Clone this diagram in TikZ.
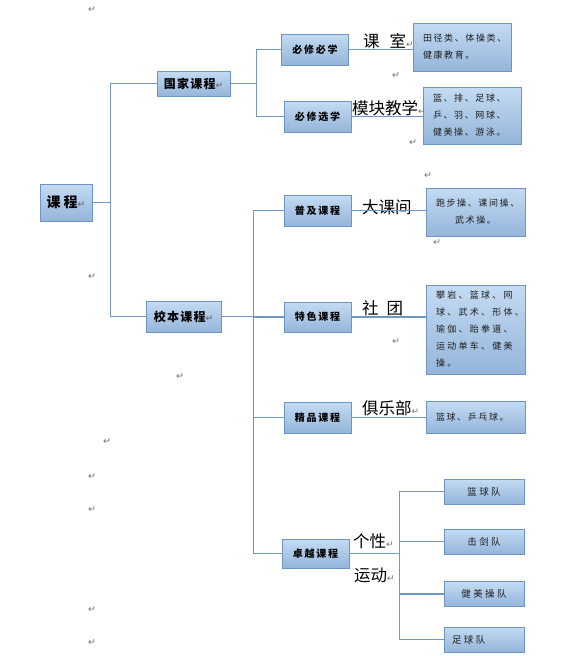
\documentclass[tikz,border=0pt]{standalone}
\usepackage{fontspec}
\usepackage{xcolor}
\usepackage{tikz}
\usetikzlibrary{positioning,calc}
\newfontfamily\cjk{Noto Sans CJK SC}
\newfontfamily\cjkmid[LetterSpace=10]{Noto Sans CJK SC}
\newfontfamily\cjkwide[LetterSpace=18]{Noto Sans CJK SC}
\newfontfamily\cjkwider[LetterSpace=25]{Noto Sans CJK SC}
\newfontfamily\dejavu{DejaVu Sans}
\definecolor{boxtop}{RGB}{196,219,243}
\definecolor{boxbot}{RGB}{148,181,218}
\definecolor{boxline}{RGB}{110,148,192}
\definecolor{wire}{RGB}{112,152,194}
\definecolor{retgray}{RGB}{115,115,115}
\definecolor{smalltext}{RGB}{30,30,30}
\newcommand{\retm}{{\dejavu\color{retgray}\fontsize{9}{9}\selectfont ↵}}

\begin{document}
\begin{tikzpicture}[
  x=1pt, y=-1pt,
  box/.style={
    draw=boxline, line width=0.9pt, top color=boxtop, bottom color=boxbot,
    inner sep=0pt, text centered
  },
  mainbox/.style={box, font=\cjkmid\bfseries\fontsize{12}{14}\selectfont},
  subbox/.style={box, minimum width=67pt, minimum height=31pt,
    font=\cjkwide\bfseries\fontsize{10}{12}\selectfont},
  infobox/.style={box, minimum width=99pt, inner xsep=10pt, text width=79pt,
    align=left, font=\cjkwide\fontsize{9}{17}\selectfont, text=smalltext},
  teambox/.style={box, minimum width=80pt, minimum height=25pt,
    font=\cjkwider\fontsize{9.5}{11}\selectfont, text=smalltext},
  tag/.style={font=\cjk\fontsize{16.5}{18}\selectfont, inner sep=0pt, anchor=west},
  link/.style={draw=wire, line width=1.1pt},
  pmark/.style={font=\dejavu\fontsize{9.5}{9.5}\selectfont, text=retgray, inner sep=0pt}
]
\useasboundingbox (0,0) rectangle (574,656);

% Nodes
\node[mainbox, minimum width=52pt, minimum height=37pt,
  font=\cjk\bfseries\fontsize{14}{16}\selectfont] (root) at (66,202.5)
  {课\hspace{3pt}程\retm};

\node[mainbox, minimum width=73pt, minimum height=25pt] (gj) at (193.5,83.5) {国家课程\retm};
\node[mainbox, minimum width=75pt, minimum height=31pt] (xb) at (183.5,316.5) {校本课程\retm};

\node[subbox] (bb) at (315,49.5) {必修必学};
\node[subbox] (bx) at (317.5,116.5) {必修选学};
\node[subbox] (pj) at (317.5,210.5) {普及课程};
\node[subbox, minimum height=30pt] (ts) at (317.5,317) {特色课程};
\node[subbox] (jp) at (317.5,417.5) {精品课程};
\node[subbox, minimum height=29pt] (zy) at (315.5,553.5) {卓越课程};

\node[infobox, minimum width=98pt, text width=78pt, minimum height=48pt] (r1) at (462,47)
  {田径类、体操类、\\健康教育。};
\node[infobox, minimum width=98pt, text width=78pt, minimum height=57pt] (r2) at (472,115.5)
  {篮、排、足球、\\乒、羽、网球、\\健美操、游泳。};
\node[infobox, align=center, minimum height=48pt] (r3) at (475.5,212)
  {跑步操、课间操、\\武术操。};
\node[infobox, minimum height=89pt, font=\cjkwider\fontsize{9}{17}\selectfont] (r4) at (475.5,329.5)
  {攀岩、篮球、网\\球、武术、形体、\\瑜伽、跆拳道、\\运动单车、健美\\操。};
\node[infobox, minimum height=32pt] (r5) at (475.5,417) {篮球、乒乓球。};

\node[teambox] (d1) at (484,491.5) {篮球队};
\node[teambox] (d2) at (484,541.5) {击剑队};
\node[teambox] (d3) at (484,594) {健美操队};
\node[teambox, text width=64pt, align=left] (d4) at (484,639.5) {足球队};

% Tags over the links
\node[tag] (t1) at (363,41) {课\hspace{10pt}室\retm};
\node[tag] (t2) at (352,108) {模块教学\retm};
\node[tag] (t3) at (362,207) {大课间};
\node[tag] (t4) at (362,308) {社\hspace{8pt}团};
\node[tag] (t5) at (362,408) {俱乐部\retm};
\node[tag] (t6) at (353,541) {个性\retm};
\node[tag] (t7) at (354,575) {运动\retm};

% Loose paragraph marks
\foreach \p [count=\i] in {(92,10),(396,76),(413,143),(428,176),(437,243),(396,342),
    (92,277),(180,377),(107,442),(92,477),(92,510),(92,610),(92,643)}
  \node[pmark] (pm\i) at \p {↵};

% Links
\draw[link] (root.east) -- ++(18,0) |- (gj.west);
\draw[link] (root.east) -- ++(18,0) |- (xb.west);

\draw[link] (gj.east) -- ++(26,0) |- (bb.west);
\draw[link] (gj.east) -- ++(26,0) |- (bx.west);

\foreach \k in {pj,ts,jp,zy}
  \draw[link] (xb.east) -- ++(32,0) |- (\k.west);

\draw[link] (bb.east) -- (bb.east -| r1.west);
\draw[link] (bx.east) -- (bx.east -| r2.west);
\draw[link] (pj.east) -- (pj.east -| r3.west);
\draw[link] (ts.east) -- (ts.east -| r4.west);
\draw[link] (jp.east) -- (jp.east -| r5.west);

\foreach \k in {d1,d2,d3,d4}
  \draw[link] (zy.east) -- ++(50,0) |- (\k.west);

\end{tikzpicture}
\end{document}
